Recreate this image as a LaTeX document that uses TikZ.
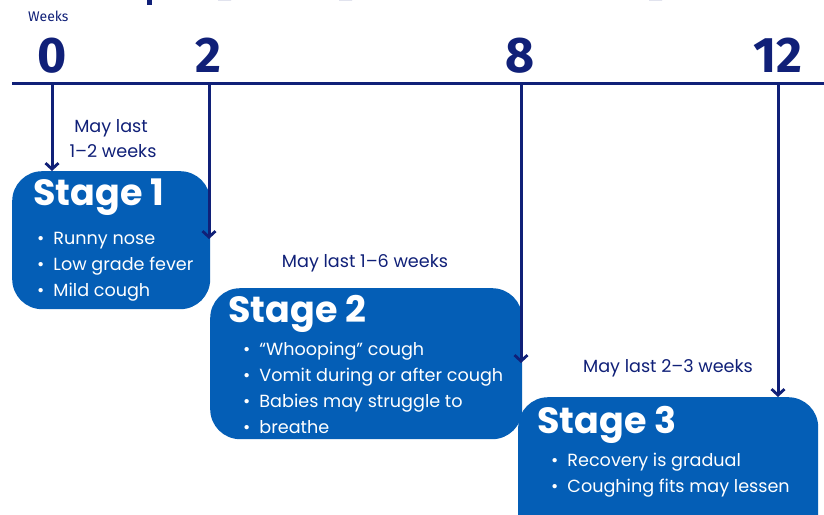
\documentclass[tikz,border=0pt]{standalone}
\usepackage{fontspec}
\setmainfont{Poppins}
\newfontfamily\numfont{Fira Sans}
\usetikzlibrary{arrows.meta}
\definecolor{navy}{RGB}{16,32,120}
\definecolor{boxblue}{RGB}{4,94,182}
\tikzset{
  stagebox/.style={fill=boxblue, rounded corners=30pt, draw=none, anchor=north west, inner sep=0},
  ttl/.style={anchor=base west, inner sep=0, text=white, font=\bfseries\fontsize{36.5}{36.5}\selectfont},
  itm/.style={anchor=base west, inner sep=0, text=white, font=\fontsize{17.6}{17.6}\selectfont},
  dur/.style={anchor=base, inner sep=0, text=navy, font=\fontsize{17.6}{17.6}\selectfont},
  wnum/.style={anchor=base, inner sep=0, text=navy, font=\numfont\bfseries\fontsize{50}{50}\selectfont},
  arr/.style={draw=navy, line width=3pt, -{Straight Barb[length=6pt,width=13pt,line width=2.8pt]}},
}
\begin{document}
\begin{tikzpicture}[x=1pt,y=-1pt]
\useasboundingbox (0,0) rectangle (824,514);
\clip (0,0) rectangle (824,514);
\fill[white] (0,0) rectangle (824,514);
% cut-off title fragments
\fill[navy] (147,0) rectangle (152,5);
\fill[navy] (218,0) arc[start angle=180,end angle=360,x radius=6.5,y radius=5] -- cycle;
\fill[navy] (339,0) arc[start angle=180,end angle=360,x radius=6.5,y radius=5] -- cycle;
\fill[navy] (649,0) arc[start angle=180,end angle=360,x radius=6.5,y radius=5] -- cycle;
% axis
\node[anchor=base west, inner sep=0, text=navy, font=\numfont\fontsize{14}{14}\selectfont] (wk) at (28,21) {Weeks};
\node[wnum] (n0) at (52,72) {0};
\node[wnum] (n2) at (208,72) {2};
\node[wnum] (n8) at (520,72) {8};
\node[wnum] (n12) at (778,72) {12};
\draw[navy, line width=3pt] (12,83) coordinate (ax0) -- (824,83) coordinate (ax1);
\coordinate (t0) at (52,83);
\coordinate (t2) at (209,83);
\coordinate (t8) at (521,83);
\coordinate (t12) at (778,83);
% boxes
\node[stagebox, minimum width=198pt, minimum height=138pt] (s1) at (12,171) {};
\node[stagebox, minimum width=312pt, minimum height=151pt] (s2) at (210,288) {};
\node[stagebox, minimum width=300pt, minimum height=160pt] (s3) at (518,397) {};
% arrows
\coordinate (e2) at (209,239);
\coordinate (e8) at (521,363);
\draw[arr] (t0) -- (s1.north -| t0);
\draw[arr] (t2) -- (e2);
\draw[arr] (t8) -- (e8);
\draw[arr] (t12) -- (s3.north -| t12);
% stage 1
\node[ttl] (h1) at (33,205) {Stage 1};
\node[itm] (a1) at (37,244) {\textbullet\hspace{9pt}Runny nose};
\node[itm] (b1) at (37,270) {\textbullet\hspace{9pt}Low grade fever};
\node[itm] (c1) at (37,296) {\textbullet\hspace{9pt}Mild cough};
\node[dur] (d1a) at (111,132) {May last};
\node[dur] (d1b) at (113,157) {1–2 weeks};
% stage 2
\node[ttl] (h2) at (228,322) {Stage 2};
\node[itm] (a2) at (243,355) {\textbullet\hspace{9pt}“Whooping” cough};
\node[itm] (b2) at (243,381) {\textbullet\hspace{9pt}Vomit during or after cough};
\node[itm] (c2) at (243,407) {\textbullet\hspace{9pt}Babies may struggle to};
\node[itm] (f2) at (243,433) {\textbullet\hspace{9pt}breathe};
\node[dur] (d2) at (365,267) {May last 1–6 weeks};
% stage 3
\node[ttl] (h3) at (537,433) {Stage 3};
\node[itm] (a3) at (551,466) {\textbullet\hspace{9pt}Recovery is gradual};
\node[itm] (b3) at (551,492) {\textbullet\hspace{9pt}Coughing fits may lessen};
\node[dur] (d3) at (668,372) {May last 2–3 weeks};
\end{tikzpicture}
\end{document}
